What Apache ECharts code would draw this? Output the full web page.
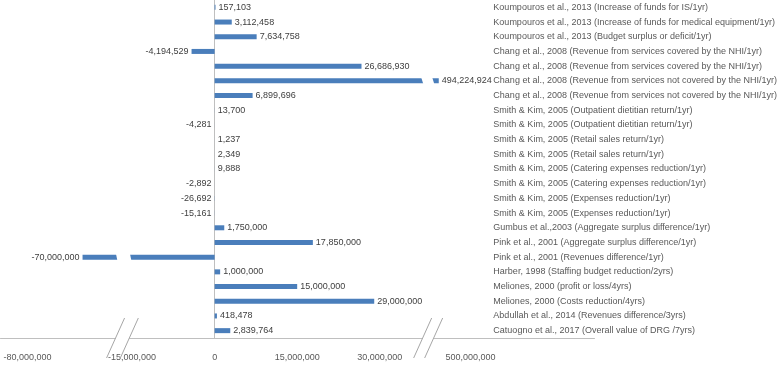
<!DOCTYPE html>
<html>
<head>
<meta charset="utf-8">
<script src="https://cdn.jsdelivr.net/npm/echarts@6/dist/echarts.min.js"></script>
<style>
  html, body { margin: 0; padding: 0; background: #fff; }
  #main { width: 780px; height: 365px; }
</style>
</head>
<body>
<div id="main"></div>
<script>
// categories, top to bottom
var categories = [
    'Koumpouros et al., 2013 (Increase of funds for IS/1yr)',
    'Koumpouros et al., 2013 (Increase of funds for medical equipment/1yr)',
    'Koumpouros et al., 2013 (Budget surplus or deficit/1yr)',
    'Chang et al., 2008 (Revenue from services covered by the NHI/1yr)',
    'Chang et al., 2008 (Revenue from services covered by the NHI/1yr)',
    'Chang et al., 2008 (Revenue from services not covered by the NHI/1yr)',
    'Chang et al., 2008 (Revenue from services not covered by the NHI/1yr)',
    'Smith & Kim, 2005 (Outpatient dietitian return/1yr)',
    'Smith & Kim, 2005 (Outpatient dietitian return/1yr)',
    'Smith & Kim, 2005 (Retail sales return/1yr)',
    'Smith & Kim, 2005 (Retail sales return/1yr)',
    'Smith & Kim, 2005 (Catering expenses reduction/1yr)',
    'Smith & Kim, 2005 (Catering expenses reduction/1yr)',
    'Smith & Kim, 2005 (Expenses reduction/1yr)',
    'Smith & Kim, 2005 (Expenses reduction/1yr)',
    'Gumbus et al.,2003 (Aggregate surplus difference/1yr)',
    'Pink et al., 2001 (Aggregate surplus difference/1yr)',
    'Pink et al., 2001 (Revenues difference/1yr)',
    'Harber, 1998 (Staffing budget reduction/2yrs)',
    'Meliones, 2000 (profit or loss/4yrs)',
    'Meliones, 2000 (Costs reduction/4yrs)',
    'Abdullah et al., 2014 (Revenues difference/3yrs)',
    'Catuogno et al., 2017 (Overall value of DRG /7yrs)'
];

var values = [
    157103, 3112458, 7634758, -4194529, 26686930, 494224924, 6899696,
    13700, -4281, 1237, 2349, 9888, -2892, -26692, -15161,
    1750000, 17850000, -70000000, 1000000, 15000000, 29000000,
    418478, 2839764
];

// x axis tick labels
var tickValues = [-80000000, -15000000, 0, 15000000, 30000000, 500000000];

// broken ranges of the value axis
var axisBreaks = [
    { start: -64000000, end: -15500000, gap: 2500000 },
    { start: 37800000, end: 493300000, gap: 2000000 }
];

function fmt(v) {
    var s = String(Math.abs(v)).replace(/\B(?=(\d{3})+(?!\d))/g, ',');
    return v < 0 ? '-' + s : s;
}

var font = 'Liberation Sans';
var chart = echarts.init(document.getElementById('main'));

var option = {
    backgroundColor: '#fff',
    animation: false,
    grid: { left: 0, right: 180, top: 0, bottom: 27 },
    xAxis: {
        type: 'value',
        min: -85000000,
        max: 522500000,
        breaks: axisBreaks,
        breakArea: {
            show: true,
            itemStyle: { color: '#fff', opacity: 1, borderWidth: 0, borderColor: '#fff' },
            zigzagAmplitude: 2,
            expandOnClick: false
        },
        axisLine: { show: true, lineStyle: { color: '#bfbfbf', width: 1 } },
        axisTick: { show: false },
        splitLine: { show: false },
        axisLabel: {
            customValues: tickValues,
            formatter: fmt,
            color: '#595959',
            fontFamily: font,
            fontSize: 9,
            margin: 15
        }
    },
    yAxis: [{
        type: 'category',
        data: categories,
        inverse: true,
        position: 'left',
        axisLine: { show: true, onZero: true, lineStyle: { color: '#bfbfbf', width: 1 } },
        axisTick: { show: false },
        axisLabel: { show: false },
        splitLine: { show: false }
    }, {
        type: 'category',
        data: categories,
        inverse: true,
        position: 'right',
        offset: -101,
        axisLine: { show: false },
        axisTick: { show: false },
        splitLine: { show: false },
        axisLabel: {
            color: '#595959',
            fontFamily: font,
            fontSize: 9,
            margin: 0
        }
    }],
    series: [{
        type: 'bar',
        yAxisIndex: 0,
        barWidth: 5,
        itemStyle: { color: '#4a7ebb' },
        label: {
            show: true,
            distance: 3,
            color: '#404040',
            fontFamily: font,
            fontSize: 9,
            formatter: function (p) { return fmt(p.value); }
        },
        data: values.map(function (v) {
            return { value: v, label: { position: v < 0 ? 'left' : 'right' } };
        })
    }]
};
chart.setOption(option);

// slash marks on the axis at each break
var yLast = chart.convertToPixel({ yAxisIndex: 0 }, categories.length - 1);
var yPrev = chart.convertToPixel({ yAxisIndex: 0 }, categories.length - 2);
var yb = yLast + (yLast - yPrev) / 2;
var slashes = [];
axisBreaks.forEach(function (b) {
    [b.start, b.end].forEach(function (v) {
        var x = chart.convertToPixel({ xAxisIndex: 0 }, v);
        slashes.push({
            type: 'line',
            z: 200,
            shape: { x1: x - 9, y1: yb + 20, x2: x + 9, y2: yb - 20 },
            style: { stroke: '#a6a6a6', lineWidth: 1 }
        });
    });
});
chart.setOption({ graphic: slashes });
</script>
</body>
</html>
